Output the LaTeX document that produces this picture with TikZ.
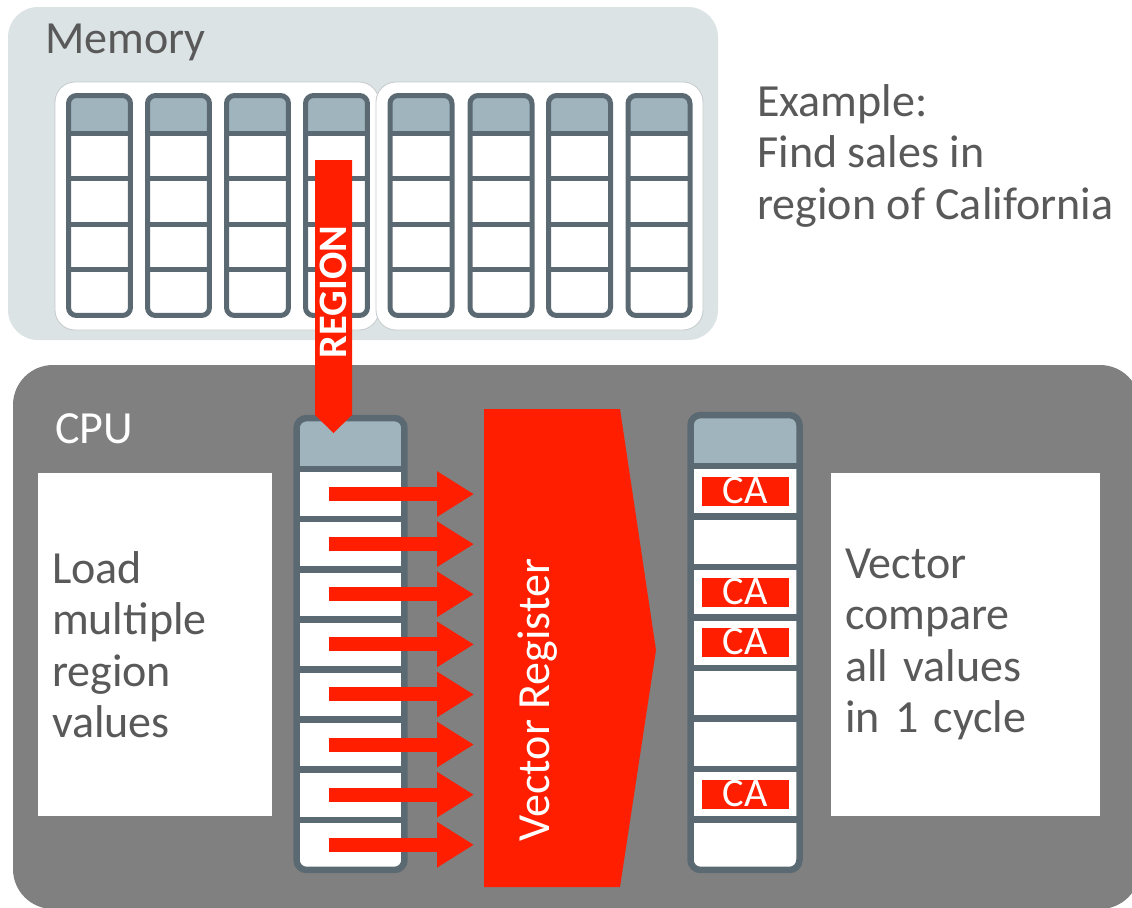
\documentclass[tikz,border=0pt]{standalone}
\usepackage{fontspec}
\setmainfont{Carlito}
\usetikzlibrary{arrows.meta,calc,positioning}
\definecolor{memgrey}{RGB}{220,227,229}
\definecolor{cpugrey}{RGB}{128,128,128}
\definecolor{slate}{RGB}{91,106,114}
\definecolor{hdrblue}{RGB}{159,180,189}
\definecolor{vred}{RGB}{255,30,0}
\definecolor{txtgrey}{RGB}{89,89,89}
\definecolor{panelline}{RGB}{200,204,206}

\begin{document}
\begin{tikzpicture}[
    x=0.02cm, y=-0.02cm,
    txt/.style={inner sep=0pt, font=\fontsize{26.2}{29.3}\selectfont},
    panel/.style={fill=white, draw=panelline, line width=0.5pt, rounded corners=0.4cm},
    cells/.style 2 args={path picture={
        \fill[hdrblue, sharp corners] (path picture bounding box.north west) rectangle ([yshift=-#1]path picture bounding box.north east);
        \foreach \k in {1,...,#2}
          \draw[slate, sharp corners] ($([yshift=-#1]path picture bounding box.north west)!{(\k-1)/#2}!(path picture bounding box.south west)$) -- ++(4cm,0);
    }},
    memcol/.style={rectangle, draw=slate, fill=white, line width=0.1cm, rounded corners=0.16cm, inner sep=0pt, outer sep=0pt, minimum width=1.24cm, minimum height=4.4cm, cells={0.75cm}{4}},
    regcol/.style={rectangle, draw=slate, fill=white, line width=0.13cm, rounded corners=0.2cm, inner sep=0pt, outer sep=0pt, minimum height=9.04cm, cells={1.02cm}{8}},
    infobox/.style={txt, fill=white, text=txtgrey, align=left, inner xsep=0.28cm, minimum height=6.86cm},
    hit/.style={fill=vred, text=white, minimum width=1.74cm, minimum height=0.58cm, inner sep=0pt, text depth=0.04cm, font=\fontsize{23}{23}\selectfont},
    feed/.style={vred, line width=0.28cm, -{Triangle[length=0.74cm, width=0.86cm]}}
]
\useasboundingbox (0,0) rectangle (1132,907);

% Memory
\fill[memgrey, rounded corners=0.6cm] (8,7) rectangle (718,340);
\node[txt, text=txtgrey, anchor=base west] (memlbl) at (45,53) {Memory};
\filldraw[panel] (55,82) rectangle (379,330);
\filldraw[panel] (376,82) rectangle (703,330);

% Table columns
\node[memcol] (m1) at (99.5,205.5) {};
\node[memcol] (m2) at (178.5,205.5) {};
\node[memcol] (m3) at (257.5,205.5) {};
\node[memcol] (m4) at (336.5,205.5) {};
\node[memcol] (m5) at (421,205.5) {};
\node[memcol] (m6) at (501,205.5) {};
\node[memcol] (m7) at (579.5,205.5) {};
\node[memcol] (m8) at (659,205.5) {};

% Example query
\node[txt, text=txtgrey, align=left, anchor=north west] (example) at (757,84) {Example:\\Find sales in\\region of California};

% CPU
\fill[cpugrey, rounded corners=0.8cm] (13,365) rectangle (1140,909);
\node[txt, text=white, anchor=base west] (cpulbl) at (55,443) {CPU};

% Side notes
\node[infobox, text width=4.12cm] (loadbox) at (155,644.5) {Load\\multiple\\region\\values};
\node[infobox, text width=4.82cm] (cmpbox) at (965.5,644.5) {Vector\\compare\\all values\\in 1 cycle};

% Registers
\node[regcol, minimum width=2.16cm] (lreg) at (350.5,644) {};
\node[regcol, minimum width=2.18cm, minimum height=9.1cm] (rreg) at (745,642.5) {};
\foreach \k in {1,...,8} {
  \coordinate (l\k) at (350.5, 469+50.1*\k-25.05);
  \coordinate (r\k) at (745, 466+50.5*\k-25.25);
}

% Vector register
\fill[vred] (484,409) -- (620,409) -- (656,650) -- (620,887) -- (484,887) -- cycle;
\coordinate (vin) at (484,650);
\node[txt, text=white, rotate=90] (vreg) at (538,700) {Vector Register};

% Arrows
\foreach \k in {1,...,8}
  \draw[feed] ($(l\k)+(-22,0)$) -- ($(l\k -| vin)+(-10,0)$);

% Load of the region column
\fill[vred] (315,160) -- (352,160) -- (352,415) -- (333.5,433) -- (315,415) -- cycle;
\node[txt, text=white, rotate=90, font=\fontsize{23}{23}\selectfont\bfseries] (regionlbl) at (333,292) {REGION};

% Matches
\node[hit] (ca1) at (r1) {CA};
\node[hit] (ca3) at (r3) {CA};
\node[hit] (ca4) at (r4) {CA};
\node[hit] (ca7) at (r7) {CA};

\end{tikzpicture}
\end{document}
